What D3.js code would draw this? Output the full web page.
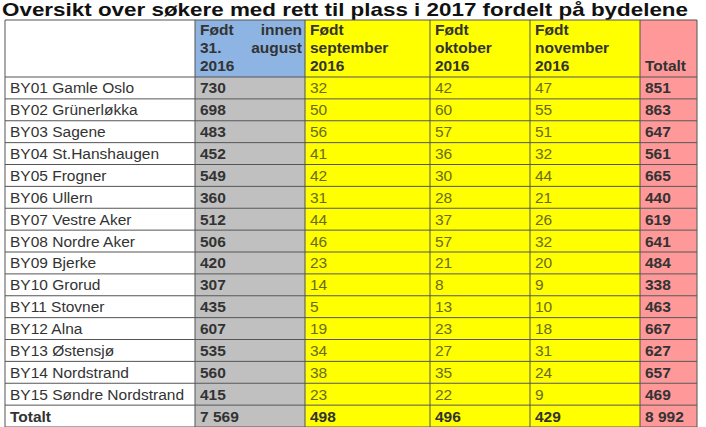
<!DOCTYPE html><html><head><meta charset="utf-8">
<script src="https://d3js.org/d3.v7.min.js"></script>
<style>body{margin:0;background:#fff}svg text{font-family:"Liberation Sans",Arial,sans-serif}</style>
</head><body><svg id="c" width="706" height="427"></svg><script>
const title="Oversikt over søkere med rett til plass i 2017 fordelt på bydelene";
const headers=[[],["Født      innen","31.      august","2016"],["Født","september","2016"],["Født","oktober","2016"],["Født","november","2016"],["","","Totalt"]];
const districts=["BY01 Gamle Oslo","BY02 Grünerløkka","BY03 Sagene","BY04 St.Hanshaugen","BY05 Frogner","BY06 Ullern","BY07 Vestre Aker","BY08 Nordre Aker","BY09 Bjerke","BY10 Grorud","BY11 Stovner","BY12 Alna","BY13 Østensjø","BY14 Nordstrand","BY15 Søndre Nordstrand"];
const bornAug=[730,698,483,452,549,360,512,506,420,307,435,607,535,560,415];
const bornSep=[32,50,56,41,42,31,44,46,23,14,5,19,34,38,23];
const bornOct=[42,60,57,36,30,28,37,57,21,8,13,23,27,35,22];
const bornNov=[47,55,51,32,44,21,26,32,20,9,10,18,31,24,9];
const totals=[851,863,647,561,665,440,619,641,484,338,463,667,627,657,469];
const totalRow=["Totalt","7 569","498","496","429","8 992"];

const svg=d3.select("#c");
const colEdges=[5,195,305,430,530,640,697];
const colFill=["#ffffff","#c0c0c0","#ffff00","#ffff00","#ffff00","#ff9999"];
const headFill=["#ffffff","#8db4e2","#ffff00","#ffff00","#ffff00","#ff9999"];
const headTop=20,headBot=77,rowH=(427-77)/16;
const y=d3.scaleBand().domain(d3.range(16)).range([headBot,headBot+16*rowH]);
svg.append("text").attr("x",2).attr("y",16).attr("font-size",19).attr("font-weight","bold").attr("fill","#111")
  .attr("textLength",686).attr("lengthAdjust","spacingAndGlyphs").text(title);
const hs=15.5;
headers.forEach((h,i)=>{
  svg.append("rect").attr("x",colEdges[i]).attr("y",headTop).attr("width",colEdges[i+1]-colEdges[i]).attr("height",headBot-headTop).attr("fill",headFill[i]);
  h.forEach((t,k)=>{
    if(!t)return;
    const yy=headTop+15+k*18;
    if(i===1&&k<2){const p=t.split(/\s+/);
      svg.append("text").attr("x",colEdges[i]+5).attr("y",yy).attr("font-size",hs).attr("font-weight","bold").attr("fill","#333").text(p[0]);
      svg.append("text").attr("x",colEdges[i+1]-3).attr("text-anchor","end").attr("y",yy).attr("font-size",hs).attr("font-weight","bold").attr("fill","#333").text(p[1]);
    } else svg.append("text").attr("x",colEdges[i]+5).attr("y",yy).attr("font-size",hs).attr("font-weight","bold").attr("fill","#333").text(t);
  });
});
const rows=districts.map((d,i)=>[d,bornAug[i],bornSep[i],bornOct[i],bornNov[i],totals[i]]);
rows.push(totalRow);
rows.forEach((r,ri)=>{
  r.forEach((v,ci)=>{
    svg.append("rect").attr("x",colEdges[ci]).attr("y",y(ri)).attr("width",colEdges[ci+1]-colEdges[ci]).attr("height",y.bandwidth()).attr("fill",colFill[ci]);
    const bold=ri===15||ci===1||ci===5;
    svg.append("text").attr("x",colEdges[ci]+5).attr("y",y(ri)+y.bandwidth()/2+5.5).attr("font-size",15.5)
      .attr("font-weight",bold?"bold":"normal").attr("fill",(ci>=2&&ci<=4&&ri<15)?"#6b6b1e":"#333").text(v);
  });
});
const g=svg.append("g").attr("stroke","#555").attr("stroke-width",1);
colEdges.forEach(x=>g.append("line").attr("x1",x).attr("x2",x).attr("y1",headTop).attr("y2",427));
g.append("line").attr("x1",5).attr("x2",697).attr("y1",headTop).attr("y2",headTop);
d3.range(17).forEach(i=>g.append("line").attr("x1",5).attr("x2",697).attr("y1",headBot+i*rowH).attr("y2",headBot+i*rowH));
</script></body></html>
